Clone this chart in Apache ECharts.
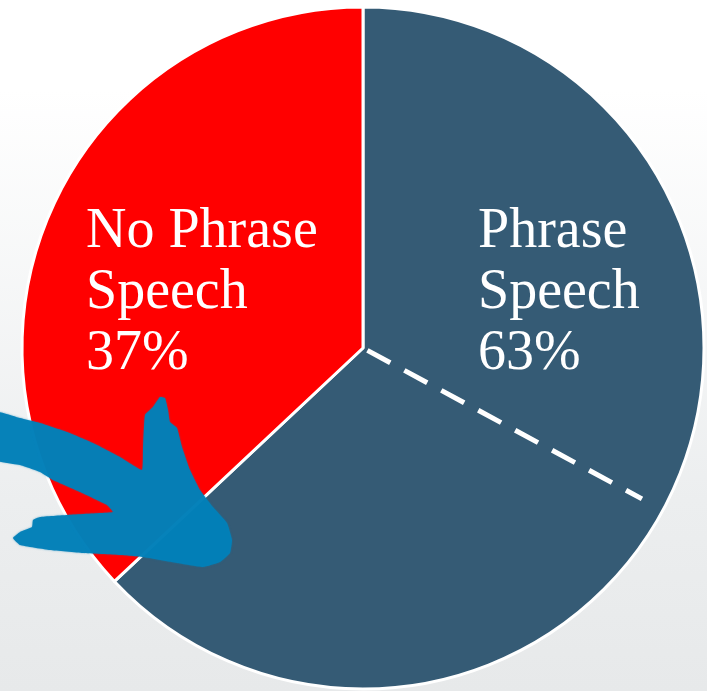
<!DOCTYPE html>
<html>
<head>
<meta charset="utf-8">
<script src="https://cdn.jsdelivr.net/npm/echarts@6/dist/echarts.min.js"></script>
<style>
  html, body { margin: 0; padding: 0; }
  body { background: linear-gradient(to bottom, #ffffff 0px, #ffffff 90px, #eceeef 500px, #e7e9ea 691px); }
  #chart { width: 707px; height: 691px; }
</style>
</head>
<body>
<div id="chart"></div>
<script>
// Share of speech types
const categories = ['Phrase Speech', 'No Phrase Speech'];
const values = [63, 37];
const colors = ['#355b75', '#ff0000'];
const labelLines = [['Phrase', 'Speech', '63%'], ['No Phrase', 'Speech', '37%']];

const chart = echarts.init(document.getElementById('chart'), null, { renderer: 'canvas' });
const cx = 363, cy = 348, R = 341;

// dashed divider inside the larger slice, angle measured clockwise from 12 o'clock
const dividerAngle = 118.4 * Math.PI / 180;
const dx = Math.sin(dividerAngle), dy = -Math.cos(dividerAngle);

// label block anchors (left edge, vertical middle), relative to pie centre
const labelAnchors = [[115, -55], [-277, -55]];

// outline of the hand-drawn arrow
const arrowOutline = [
  [-4, 412], [20, 418], [40, 423], [67, 432], [93, 443], [120, 457], [142, 470],
  [143, 450], [145, 415], [153, 407], [160, 397], [165, 398], [168, 410], [170, 422],
  [177, 428], [182, 447], [190, 470], [200, 490], [213, 507], [227, 523], [232, 540],
  [230, 553], [220, 562], [203, 567], [177, 563], [143, 557], [120, 555], [83, 553],
  [50, 550], [20, 545], [13, 538], [20, 532], [32, 527], [33, 520], [40, 517],
  [67, 515], [100, 513], [113, 512], [107, 505], [80, 492], [53, 480], [40, 472],
  [20, 465], [-4, 460]
];

chart.setOption({
  backgroundColor: 'transparent',
  animation: false,
  series: [{
    type: 'pie',
    center: [cx, cy],
    radius: R,
    startAngle: 90,
    clockwise: true,
    silent: true,
    itemStyle: { borderColor: '#ffffff', borderWidth: 3 },
    label: {
      show: true,
      position: 'inside',
      color: '#ffffff',
      fontFamily: 'Liberation Serif, Times New Roman, serif',
      fontSize: 56,
      lineHeight: 61,
      align: 'left',
      formatter: p => labelLines[p.dataIndex].join('\n')
    },
    labelLine: { show: false },
    labelLayout: p => ({
      x: cx + labelAnchors[p.dataIndex][0],
      y: cy + labelAnchors[p.dataIndex][1],
      align: 'left',
      verticalAlign: 'middle'
    }),
    data: categories.map((c, i) => ({ name: c, value: values[i], itemStyle: { color: colors[i] } }))
  }],
  graphic: [
    {
      type: 'line',
      silent: true,
      z: 10,
      shape: { x1: cx + dx * 5, y1: cy + dy * 5, x2: cx + dx * R * 0.93, y2: cy + dy * R * 0.93 },
      style: { stroke: '#ffffff', lineWidth: 5, lineDash: [26, 16] }
    },
    {
      type: 'polygon',
      silent: true,
      z: 20,
      shape: { smooth: 0.12, points: arrowOutline },
      style: { fill: '#0280b8', opacity: 0.96, shadowBlur: 2, shadowColor: 'rgba(2,128,184,0.6)' }
    }
  ]
});
</script>
</body>
</html>
